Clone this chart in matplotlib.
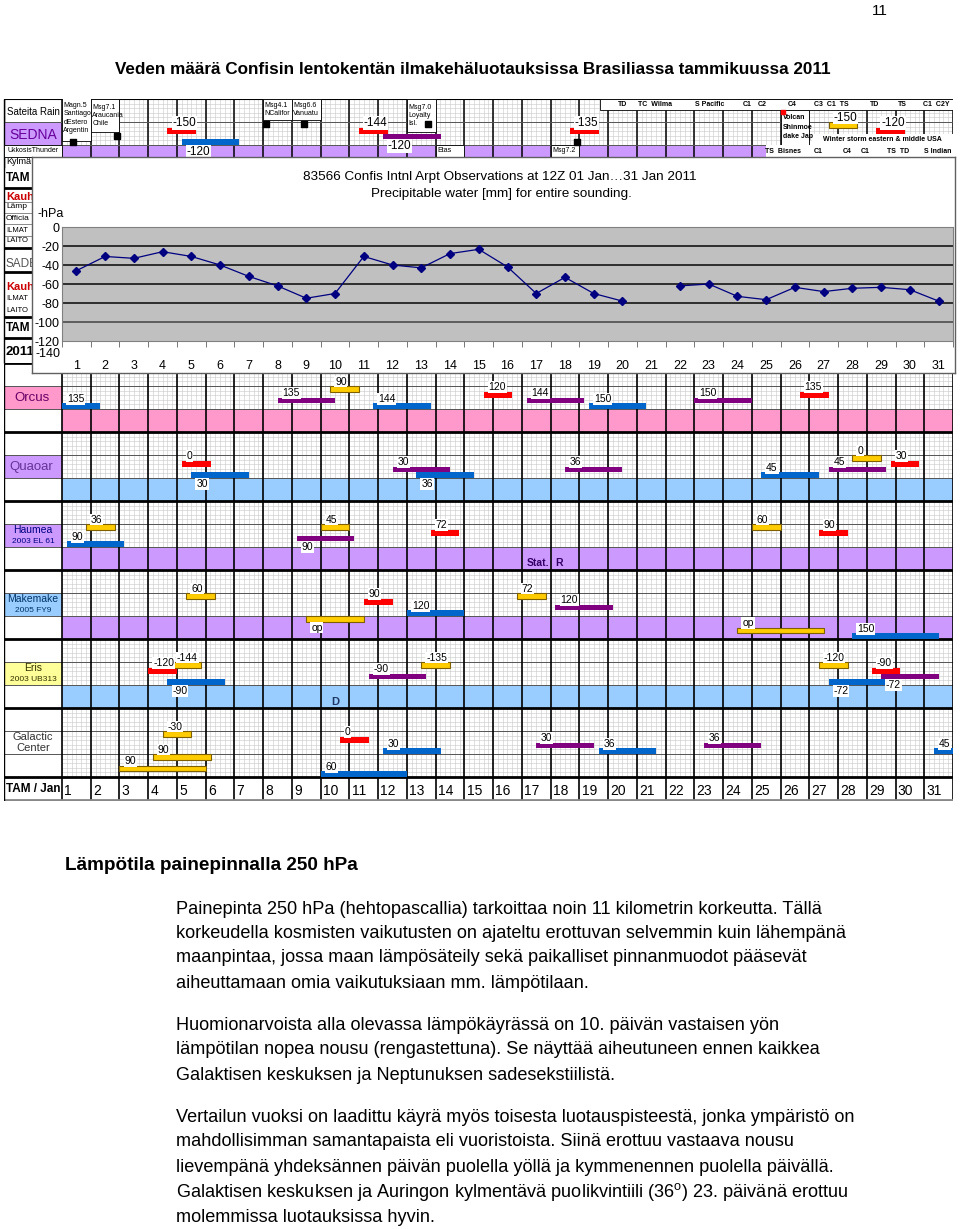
import numpy as np
import matplotlib.pyplot as plt
from matplotlib.patches import Rectangle

plt.rcParams['font.family'] = ['Liberation Sans', 'DejaVu Sans']
plt.rcParams['mathtext.fontset'] = 'custom'
plt.rcParams['mathtext.rm'] = 'Liberation Sans'

W, H = 960, 1229

# --- precipitable water, Confins 12Z, January 2011 (plotted as -hPa) ---
days = list(range(1, 32))
water = [-46, -31, -33, -26, -31, -40, -52, -62, -75, -70,
         -31, -40, -43, -28, -23.5, -42, -70, -53, -70, -78,
         np.nan, -62, -60, -73, -76.5, -63.5, -68, -64.5, -63.5, -66, -78]
y_ticks = [0, -20, -40, -60, -80, -100, -120]

# aspect bars: (start day, end day, colour, lane, label, label below bar)
sedna = [(4.17, 5.17, 'r', 5, '-150', 0), (4.67, 6.67, 'b', 7, '-120', 1),
         (10.83, 11.83, 'r', 5, '-144', 0), (11.67, 13.67, 'p', 6, '-120', 1),
         (18.17, 19.17, 'r', 5, '-135', 0), (27.17, 28.17, 'y', 4, '-150', 0),
         (28.83, 29.83, 'r', 5, '-120', 0)]
orcus = [(0.5, 1.83, 'b', 7, '135', 0), (8.0, 10.0, 'p', 6, '135', 0),
         (9.83, 10.83, 'y', 4, '90', 0), (11.33, 13.33, 'b', 7, '144', 0),
         (15.17, 16.17, 'r', 5, '120', 0), (16.67, 18.67, 'p', 6, '144', 0),
         (18.83, 20.83, 'b', 7, '150', 0), (22.5, 24.5, 'p', 6, '150', 0),
         (26.17, 27.17, 'r', 5, '135', 0)]
quaoar = [(4.67, 5.67, 'r', 5, '0', 0), (5.0, 7.0, 'b', 7, '30', 1),
          (12.0, 14.0, 'p', 6, '30', 0), (12.83, 14.83, 'b', 7, '36', 1),
          (18.0, 20.0, 'p', 6, '36', 0), (24.83, 26.83, 'b', 7, '45', 0),
          (27.17, 29.17, 'p', 6, '45', 0), (28.0, 29.0, 'y', 4, '0', 0),
          (29.33, 30.33, 'r', 5, '30', 0)]
haumea = [(1.33, 2.33, 'y', 4, '36', 0), (0.67, 2.67, 'b', 7, '90', 0),
          (9.5, 10.5, 'y', 4, '45', 0), (8.67, 10.67, 'p', 6, '90', 1),
          (13.33, 14.33, 'r', 5, '72', 0), (24.5, 25.5, 'y', 4, '60', 0),
          (26.83, 27.83, 'r', 5, '90', 0)]
makemake = [(4.83, 5.83, 'y', 4, '60', 0), (11.0, 12.0, 'r', 5, '90', 0),
            (12.5, 14.5, 'b', 7, '120', 0), (9.0, 11.0, 'y', 8, 'op', 1),
            (16.33, 17.33, 'y', 4, '72', 0), (17.67, 19.67, 'p', 6, '120', 0),
            (24.0, 27.0, 'y', 10, 'op', 0), (28.0, 31.0, 'b', 11, '150', 0)]
eris = [(3.5, 4.5, 'r', 5, '-120', 0), (4.33, 5.33, 'y', 4, '-144', 0),
        (4.17, 6.17, 'b', 7, '-90', 1), (11.17, 13.17, 'p', 6, '-90', 0),
        (13.0, 14.0, 'y', 4, '-135', 0), (26.83, 27.83, 'y', 4, '-120', 0),
        (28.67, 29.67, 'r', 5, '-90', 0), (29.0, 31.0, 'p', 6, '-72', 1),
        (27.17, 29.17, 'b', 7, '-72', 1)]
galactic = [(4.0, 5.0, 'y', 4, '-30', 0), (3.67, 5.67, 'y', 8, '90', 0),
            (2.5, 5.5, 'y', 10, '90', 0), (10.17, 11.17, 'r', 5, '0', 0),
            (11.67, 13.67, 'b', 7, '30', 0), (9.5, 12.5, 'b', 11, '60', 0),
            (17.0, 19.0, 'p', 6, '30', 0), (19.17, 21.17, 'b', 7, '36', 0),
            (22.83, 24.83, 'p', 6, '36', 0), (30.83, 31.5, 'b', 7, '45', 0)]

row_bars = [orcus, quaoar, haumea, makemake, eris, galactic]
row_names = ['Orcus', 'Quaoar', 'Haumea', 'Makemake', 'Eris', 'Galactic']
row_sub = ['', '', '2003 EL 61', '2005 FY9', '2003 UB313', 'Center']
label_bg = ['#FF99CC', '#CC99FF', '#CC99FF', '#99CCFF', '#FFFF99', 'white']
label_fg = ['#660066', '#663399', '#000080', '#003366', '#333300', '#333333']
band_col = ['#FF99CC', '#99CCFF', '#CC99FF', '#CC99FF', '#99CCFF', None]

# earthquakes / events in the SEDNA strip
quake_x = [0.88, 2.41, 7.6, 8.92, 13.23, 18.41]
quake_lane = [7.5, 6.4, 4.35, 4.35, 4.35, 7.5]
event_day = [1, 2, 8, 9, 13, 14, 18]
event_text = ['Magn.5\nSantiago\ndEstero\nArgentin', 'Msg7.1\nAraucania\nChile',
              'Msg4.1\nNCalifor', 'Msg6.6\nVanuatu', 'Msg7.0\nLoyalty\nIsl.', 'Etas', 'Msg7.2']
event_top = [-0.7, 0, 0, 0, 0, 8, 8]
event_bot = [7.3, 5.8, 3.7, 3.7, 5.8, 10, 10]

storm_top = ['TD', 'TC  Wilma', 'S Pacific', 'C1', 'C2', 'C4', 'C3  C1  TS', 'TD', 'TS', 'C1  C2Y']
storm_top_x = [20.0, 21.13, 23.04, 24.33, 24.88, 25.89, 27.28, 28.78, 29.75, 30.93]
storm_bot = ['TS  Bisnes', 'C1', 'C4', 'C1', 'TS  TD', 'S Indian']
storm_bot_x = [25.58, 26.8, 27.8, 28.43, 29.58, 30.97]

para_lines = [
    'Painepinta 250 hPa (hehtopascallia) tarkoittaa noin 11 kilometrin korkeutta. Tällä',
    'korkeudella kosmisten vaikutusten on ajateltu erottuvan selvemmin kuin lähempänä',
    'maanpintaa, jossa maan lämpösäteily sekä paikalliset pinnanmuodot pääsevät',
    'aiheuttamaan omia vaikutuksiaan mm. lämpötilaan.',
    'Huomionarvoista alla olevassa lämpökäyrässä on 10. päivän vastaisen yön',
    'lämpötilan nopea nousu (rengastettuna). Se näyttää aiheutuneen ennen kaikkea',
    'Galaktisen keskuksen ja Neptunuksen sadesekstiilistä.',
    'Vertailun vuoksi on laadittu käyrä myös toisesta luotauspisteestä, jonka ympäristö on',
    'mahdollisimman samantapaista eli vuoristoista. Siinä erottuu vastaava nousu',
    'lievempänä yhdeksännen päivän puolella yöllä ja kymmenennen puolella päivällä.',
    r'Galaktisen keskuksen ja Auringon kylmentävä puolikvintiili (36$^{\mathrm{o}}$) 23. päivänä erottuu',
    'molemmissa luotauksissa hyvin.',
]
para_y = [909, 934, 958, 983, 1025, 1050, 1075, 1117, 1142, 1167, 1192, 1217]

bar_colors = {'r': '#FF0000', 'b': '#0066CC', 'p': '#800080', 'y': '#FFCC00'}


def px2day(px):
    return (px - 62) / 28.75 + 0.5


def add_px_axes(x0, y0, x1, y1, **kw):
    return fig.add_axes([x0 / W, 1 - y1 / H, (x1 - x0) / W, (y1 - y0) / H], **kw)


def draw_grid(ax, y0, y1):
    ax.vlines(np.arange(0.5, 31.5, 1 / 6), y0, y1, color='#C8C8C8', lw=0.4, zorder=1)
    ax.hlines(np.arange(y0, y1, 0.8), 0.5, 31.5, color='#C8C8C8', lw=0.4, zorder=1)


def draw_bars(ax, bars, top, fs):
    for start, end, kind, lane, text, below in bars:
        y0 = top + lane
        ax.add_patch(Rectangle((start, y0), end - start, 1, facecolor=bar_colors[kind],
                               edgecolor='#7F6000' if kind == 'y' else 'none', lw=0.8, zorder=6))
        if below:
            ax.text(start + 0.17, y0 + 1.15, text, ha='left', va='top', fontsize=fs, zorder=7,
                    bbox=dict(facecolor='white', edgecolor='none', pad=0.6))
        else:
            ax.text(start + 0.17, y0 - 0.25, text, ha='left', va='baseline', fontsize=fs, zorder=7,
                    bbox=dict(facecolor='white', edgecolor='none', pad=0.6))


fig = plt.figure(figsize=(W / 100, H / 100), dpi=100)

# ---- page (title, left column, text) ----
pg = add_px_axes(0, 0, W, H, zorder=0)
pg.set_xlim(0, W)
pg.set_ylim(H, 0)
pg.axis('off')
pg.text(888, 11, '11', ha='right', va='center', fontsize=11)
pg.text(473, 69, 'Veden määrä Confisin lentokentän ilmakehäluotauksissa Brasiliassa tammikuussa 2011',
        ha='center', va='center', fontsize=12.3, fontweight='bold')
pg.text(65, 866, 'Lämpötila painepinnalla 250 hPa', ha='left', va='center', fontsize=13.6, fontweight='bold')
for line, y in zip(para_lines, para_y):
    pg.text(176, y, line, ha='left', va='center', fontsize=13.1)

# left column of the spreadsheet, mostly hidden behind the inset chart
left_col = [('Kylmä', 161, 6.5, 'normal', 'black'), ('TAM', 178, 8.5, 'bold', 'black'),
            ('Kauh', 197, 8, 'bold', '#CC0000'), ('Lämp', 207, 6, 'normal', 'black'),
            ('Officia', 218, 6, 'normal', 'black'), ('ILMAT', 230, 5.5, 'normal', 'black'),
            ('LAITO', 241, 5.5, 'normal', 'black'), ('SADE', 264, 8.5, 'normal', '#555555'),
            ('Kauh', 287, 8, 'bold', '#CC0000'), ('ILMAT', 298, 5.5, 'normal', 'black'),
            ('LAITO', 310, 5.5, 'normal', 'black'), ('TAM', 328, 8.5, 'bold', 'black'),
            ('2011', 352, 9.5, 'bold', 'black')]
for txt, y, fs, fw, col in left_col:
    pg.text(6, y, txt, ha='left', va='center', fontsize=fs, fontweight=fw, color=col)
pg.hlines([188, 248, 272, 317, 338], 4, 32, color='black', lw=2)
pg.hlines([157, 202, 213, 224, 236], 4, 32, color='#777777', lw=0.6)
pg.vlines(4, 99, 363, color='black', lw=1)

# ---- SEDNA strip ----
top = add_px_axes(4, 99, 953, 168, zorder=1)
xl = px2day(4)
top.set_xlim(xl, 31.5)
top.set_ylim(12, 0)
top.axis('off')
draw_grid(top, 0, 12)
top.add_patch(Rectangle((0.5, 8), 31, 4, facecolor='#CC99FF', edgecolor='none', zorder=2))
top.add_patch(Rectangle((xl, 4), 0.5 - xl, 4, facecolor='#CC99FF', edgecolor='none', zorder=2))
top.vlines(np.arange(0.5, 32, 1), 0, 12, color='black', lw=1.1, zorder=3)
top.hlines([4, 8], xl, 31.5, color='#555555', lw=0.7, zorder=3)
top.hlines([0], xl, 31.5, color='black', lw=1.5, zorder=4)
top.vlines(xl, 0, 12, color='black', lw=1, zorder=4)
top.text((xl + 0.5) / 2, 2.3, 'Sateita Rain', ha='center', va='center', fontsize=7)
top.text((xl + 0.5) / 2, 6.2, 'SEDNA', ha='center', va='center', fontsize=10, color='#660099')
top.add_patch(Rectangle((xl, 8), 0.5 - xl, 2, facecolor='white', edgecolor='black', lw=0.6, zorder=4))
top.text((xl + 0.5) / 2, 9.0, 'UkkosisThunder', ha='center', va='center', fontsize=5, zorder=5)

for d, txt, y0, y1 in zip(event_day, event_text, event_top, event_bot):
    top.add_patch(Rectangle((d - 0.5, y0), 1, y1 - y0, facecolor='white', edgecolor='black',
                            lw=0.6, zorder=4))
    top.text(d - 0.45, (y0 + y1) / 2, txt, ha='left', va='center', fontsize=5, linespacing=1.25, zorder=5)
top.scatter(quake_x, quake_lane, marker='s', s=14, color='black', zorder=6)

# storms / volcano boxes on the right
top.add_patch(Rectangle((px2day(600), 0), 31.5 - px2day(600), 1.9, facecolor='white',
                        edgecolor='black', lw=0.6, zorder=4))
top.add_patch(Rectangle((25.5, 1.9), 1, 6.1, facecolor='white', edgecolor='black', lw=0.6, zorder=4))
top.add_patch(Rectangle((26.6, 6.1), 4.9, 1.9, facecolor='white', edgecolor='none', zorder=4))
top.add_patch(Rectangle((25.0, 8), 6.5, 2.2, facecolor='white', edgecolor='none', zorder=4))
for txt, x in zip(storm_top, storm_top_x):
    top.text(x, 0.95, txt, ha='center', va='center', fontsize=5, fontweight='bold', zorder=5)
for txt, x in zip(storm_bot, storm_bot_x):
    top.text(x, 9.1, txt, ha='center', va='center', fontsize=5, fontweight='bold', zorder=5)
top.text(25.58, 4.9, 'Volcan\nShinmoe\ndake Jap', ha='left', va='center', fontsize=5,
         fontweight='bold', linespacing=1.5, zorder=5)
top.scatter([25.6], [2.3], marker='s', s=10, color='#FF0000', zorder=6)
top.text(29.05, 7.1, 'Winter storm eastern & middle USA', ha='center', va='center', fontsize=5,
         fontweight='bold', zorder=5)
draw_bars(top, sedna, 0, 8.5)

# ---- main aspect grid ----
ax = add_px_axes(4, 363, 953, 801, zorder=1)
ax.set_xlim(xl, 31.5)
ax.set_ylim(76.17, 0)
ax.axis('off')
draw_grid(ax, 0, 72)
for r in range(6):
    t = 12 * r
    if band_col[r]:
        ax.add_patch(Rectangle((0.5, t + 8), 31, 4, facecolor=band_col[r], edgecolor='none', zorder=2))
    ax.add_patch(Rectangle((xl, t + 4), 0.5 - xl, 4, facecolor=label_bg[r], edgecolor='none', zorder=2))
    cx = (xl + 0.5) / 2
    if row_sub[r] == '':
        ax.text(cx - 0.05, t + 6.1, row_names[r], ha='center', va='center', fontsize=9.5,
                color=label_fg[r], zorder=5)
    elif r == 5:
        ax.text(cx, t + 6.0, 'Galactic\nCenter', ha='center', va='center', fontsize=8,
                color=label_fg[r], linespacing=1.2, zorder=5)
    else:
        ax.text(cx, t + 5.0, row_names[r], ha='center', va='center', fontsize=7.5,
                color=label_fg[r], zorder=5)
        ax.text(cx, t + 7.0, row_sub[r], ha='center', va='center', fontsize=6,
                color=label_fg[r], zorder=5)
    ax.hlines([t + 4, t + 8], xl, 31.5, color='#555555', lw=0.7, zorder=3)
    draw_bars(ax, row_bars[r], t, 7.5)
ax.vlines(np.arange(0.5, 32, 1), 0, 76.17, color='black', lw=1.2, zorder=3)
ax.hlines(np.arange(0, 73, 12), xl, 31.5, color='black', lw=2, zorder=4)
ax.hlines(76.0, xl, 31.5, color='#888888', lw=2, zorder=4)
ax.vlines(xl, 0, 76.17, color='black', lw=1, zorder=4)
ax.text(10.0, 58.96, 'D', ha='center', va='center', fontsize=8, fontweight='bold', color='#1F3864', zorder=5)
ax.text(16.67, 34.8, 'Stat.', ha='left', va='center', fontsize=7.5, fontweight='bold', color='#330066', zorder=5)
ax.text(17.65, 34.8, 'R', ha='left', va='center', fontsize=7.5, fontweight='bold', color='#330066', zorder=5)
ax.text((xl + 0.5) / 2, 74.1, 'TAM / Jan', ha='center', va='center', fontsize=8.5, fontweight='bold', zorder=5)
for d in days:
    ax.text(d - 0.42, 74.4, str(d), ha='left', va='center', fontsize=10, zorder=5)

# ---- inset: precipitable water chart ----
bg = add_px_axes(32, 157, 955, 373, zorder=3)
bg.set_xlim(32, 955)
bg.set_ylim(373, 157)
bg.set_xticks([])
bg.set_yticks([])
for s in bg.spines.values():
    s.set_color('#606060')
    s.set_linewidth(1)
bg.text(500, 177, '83566 Confis Intnl Arpt Observations at 12Z 01 Jan\u202631 Jan 2011',
        ha='center', va='center', fontsize=9.7)
bg.text(501, 194, 'Precipitable water [mm] for entire sounding.', ha='center', va='center', fontsize=9.7)
bg.text(37, 214, '-hPa', ha='left', va='center', fontsize=9)
bg.text(60, 354, '-140', ha='right', va='center', fontsize=9)

ch = add_px_axes(62, 227, 953, 341, zorder=4)
ch.set_facecolor('#C0C0C0')
for v in y_ticks[1:-1]:
    ch.axhline(v, color='#222222' if v > -100 else '#555555', lw=1.3, zorder=1)
ch.plot(days, water, color='#000080', lw=0.9, marker='D', ms=4, zorder=3)
ch.set_xlim(0.5, 31.5)
ch.set_ylim(-120, 0)
ch.set_yticks(y_ticks)
ch.set_yticklabels([str(v) for v in y_ticks], fontsize=9)
ch.set_xticks(days)
ch.set_xticklabels([str(d) for d in days], fontsize=9)
ch.set_xticks(np.arange(0.5, 32, 1), minor=True)
ch.tick_params(axis='x', which='major', length=0, pad=14)
ch.tick_params(axis='x', which='minor', length=4, direction='out', color='#606060')
ch.tick_params(axis='y', length=0, pad=2)
for s in ch.spines.values():
    s.set_color('#808080')

fig.savefig('out.png', dpi=100, facecolor='white')
